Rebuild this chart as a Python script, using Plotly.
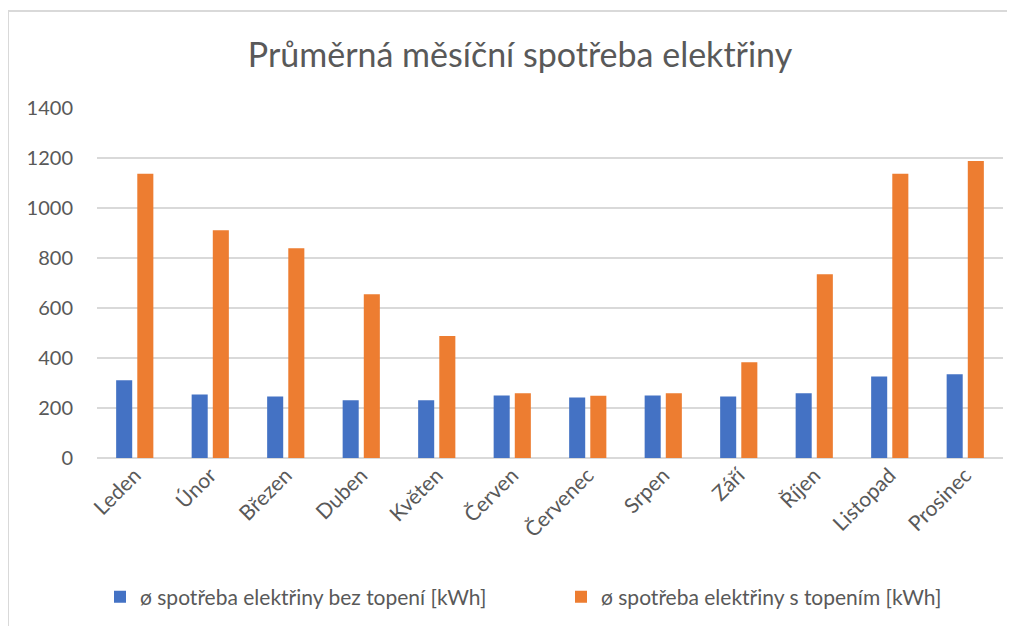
import plotly.graph_objects as go

months = ["Leden", "Únor", "Březen", "Duben", "Květen", "Červen", "Červenec",
          "Srpen", "Září", "Říjen", "Listopad", "Prosinec"]
bez_topeni = [311, 254, 246, 231, 231, 250, 242, 250, 246, 259, 326, 335]
s_topenim = [1137, 911, 839, 655, 488, 259, 249, 259, 383, 735, 1137, 1188]
name_bez = "ø spotřeba elektřiny bez topení [kWh]"
name_s = "ø spotřeba elektřiny s topením [kWh]"
title = "Průměrná měsíční spotřeba elektřiny"
y_ticks = [0, 200, 400, 600, 800, 1000, 1200, 1400]

FONT = "Lato"
GRAY = "#595959"

fig = go.Figure()
fig.add_trace(go.Bar(x=months, y=bez_topeni, name=name_bez, legend="legend",
                     showlegend=True,
                     marker=dict(color="#4472C4", line=dict(width=0))))
fig.add_trace(go.Bar(x=months, y=s_topenim, name=name_s, legend="legend2",
                     showlegend=True,
                     marker=dict(color="#ED7D31", line=dict(width=0))))

OFF = 8  # page body margin
W, H = 1015 - OFF, 626 - OFF
# page coordinates of plot area
PL, PR, PT, PB = 97, 1003, 108, 458
L, R, T, B = PL - OFF, W - (PR - OFF), PT - OFF, H - (PB - OFF)
pw, ph = W - L - R, H - T - B

def px_x(x):  # page px -> paper
    return (x - OFF - L) / pw

def px_y(y):
    return (H - B - (y - OFF)) / ph

fig.update_layout(
    width=W, height=H,
    showlegend=True,
    margin=dict(l=L, r=R, t=T, b=B, autoexpand=False),
    paper_bgcolor="white", plot_bgcolor="white",
    barmode="group", bargap=0.44, bargroupgap=0.24,
    title=dict(text=title, x=px_x(520), xref="paper", xanchor="center",
               y=1 - (55 - OFF) / H, yanchor="middle",
               font=dict(family=FONT, size=34, color=GRAY)),
    font=dict(family=FONT, color=GRAY),
    xaxis=dict(tickangle=-45, tickfont=dict(size=21, color=GRAY),
               showgrid=False, showline=False, ticks="", zeroline=False),
    yaxis=dict(range=[0, 1400], tickvals=y_ticks,
               tickfont=dict(size=20, color=GRAY),
               showgrid=True, gridcolor="#d9d9d9", gridwidth=1.5,
               zeroline=True, zerolinecolor="#d9d9d9", zerolinewidth=1.5,
               ticks="outside", ticklen=19, tickcolor="rgba(0,0,0,0)",
               showline=False),
    legend=dict(orientation="h", x=px_x(100), xanchor="left",
                y=px_y(597), yanchor="middle", visible=True,
                font=dict(size=21, color=GRAY),
                itemwidth=30, bgcolor="rgba(0,0,0,0)"),
    legend2=dict(orientation="h", x=px_x(561), xanchor="left",
                 y=px_y(597), yanchor="middle", visible=True,
                 font=dict(size=21, color=GRAY),
                 itemwidth=30, bgcolor="rgba(0,0,0,0)"),
    shapes=[
        dict(type="line", xref="paper", yref="paper",
             x0=px_x(8), x1=px_x(8), y0=px_y(11), y1=px_y(640),
             line=dict(color="#d9d9d9", width=2)),
        dict(type="line", xref="paper", yref="paper",
             x0=px_x(8), x1=px_x(1015), y0=px_y(11), y1=px_y(11),
             line=dict(color="#d9d9d9", width=2)),
    ],
)

fig.write_html("out.html", config={"displayModeBar": False})
